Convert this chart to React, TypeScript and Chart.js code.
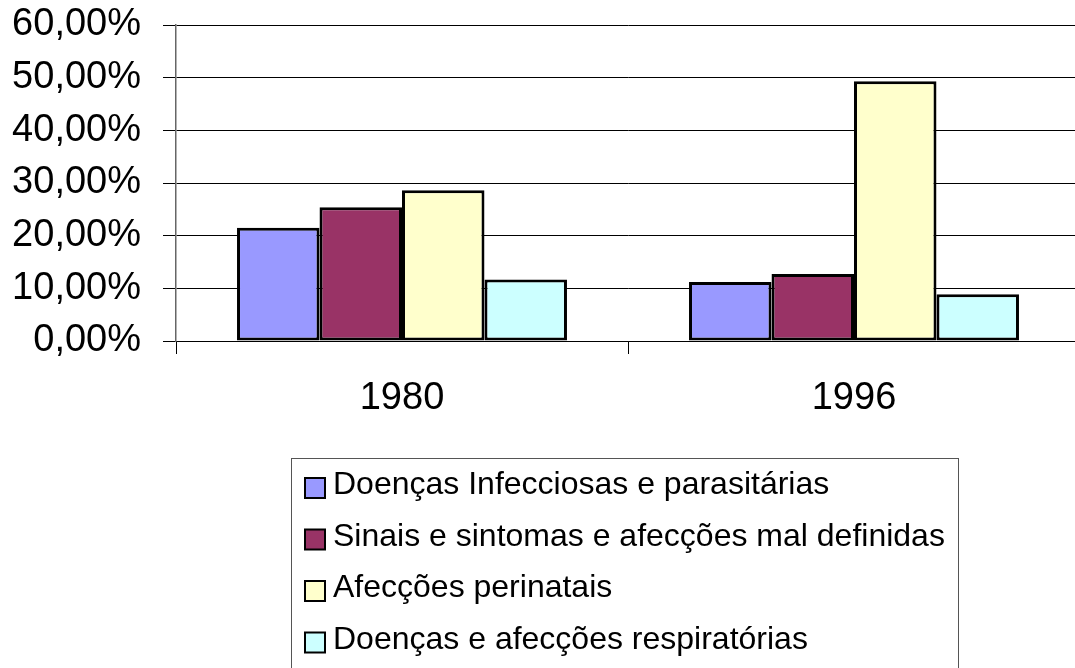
import React, { useEffect, useRef } from "react";
import { Chart, registerables } from "chart.js";

Chart.register(...registerables);

const categories = ["1980", "1996"];
const seriesNames = [
  "Doenças Infecciosas e parasitárias",
  "Sinais e sintomas e afecções mal definidas",
  "Afecções perinatais",
  "Doenças e afecções respiratórias",
];
const infecciosas = [21.5, 11.2];
const sinais = [25.4, 12.7];
const perinatais = [28.6, 49.3];
const respiratorias = [11.7, 8.9];
const seriesColors = ["#9999FF", "#993366", "#FFFFCC", "#CCFFFF"];
const yTicks = [0, 10, 20, 30, 40, 50, 60];

const FONT = "'Liberation Sans', Arial, sans-serif";

const boxLegend = {
  id: "boxLegend",
  afterDraw(chart: any, _args: any, opts: any) {
    const ctx = chart.ctx;
    ctx.save();
    ctx.strokeStyle = "#555";
    ctx.lineWidth = 1;
    ctx.strokeRect(opts.x + 0.5, opts.y + 0.5, opts.w, opts.h);
    ctx.font = `${opts.fontSize}px ${FONT}`;
    ctx.textBaseline = "alphabetic";
    ctx.textAlign = "left";
    chart.data.datasets.forEach((ds: any, i: number) => {
      const base = opts.firstBaseline + i * opts.step;
      ctx.fillStyle = ds.backgroundColor;
      ctx.fillRect(opts.swatchX, base - 16, 20, 20);
      ctx.strokeStyle = "#000";
      ctx.lineWidth = 2;
      ctx.strokeRect(opts.swatchX, base - 16, 20, 20);
      ctx.fillStyle = "#000";
      ctx.fillText(ds.label, opts.textX, base);
    });
    ctx.restore();
  },
};

export default function App() {
  const ref = useRef<HTMLCanvasElement>(null);
  useEffect(() => {
    if (!ref.current) return;
    const values = [infecciosas, sinais, perinatais, respiratorias];
    const chart = new Chart(ref.current, {
      type: "bar",
      data: {
        labels: categories,
        datasets: seriesNames.map((name, i) => ({
          label: name,
          data: values[i],
          backgroundColor: seriesColors[i],
          borderColor: "#000",
          borderWidth: 3,
          borderSkipped: false,
          categoryPercentage: 0.73,
          barPercentage: 1,
        })),
      },
      options: {
        responsive: false,
        animation: false,
        layout: { padding: { top: 25, right: 10, bottom: 0, left: 0 } },
        plugins: {
          legend: { display: false },
          tooltip: { enabled: false },
          boxLegend: {
            x: 291,
            y: 458,
            w: 667,
            h: 300,
            swatchX: 305,
            textX: 333,
            firstBaseline: 494,
            step: 51.5,
            fontSize: 32,
          },
        } as any,
        scales: {
          x: {
            afterFit: (s: any) => {
              s.height = 327;
              s.paddingLeft = 0;
              s.paddingRight = 0;
            },
            grid: {
              drawOnChartArea: false,
              drawTicks: true,
              tickLength: 13,
              color: "#000",
            },
            border: { display: true, color: "#000", width: 1 },
            ticks: {
              color: "#000",
              font: { family: FONT, size: 38 },
              padding: 22,
            },
          },
          y: {
            min: 0,
            max: 60,
            afterFit: (s: any) => {
              s.width = 176;
              s.paddingTop = 0;
              s.paddingBottom = 0;
            },
            afterBuildTicks: (s: any) => {
              s.ticks = yTicks.map((v) => ({ value: v }));
            },
            grid: {
              color: "#000",
              lineWidth: 1,
              drawTicks: true,
              tickLength: 13,
            },
            border: { display: true, color: "#666", width: 1.5 },
            ticks: {
              color: "#000",
              font: { family: FONT, size: 38 },
              padding: 22,
              callback: (v: any) => Number(v).toFixed(2).replace(".", ",") + "%",
            },
          },
        },
      },
      plugins: [boxLegend],
    });
    return () => chart.destroy();
  }, []);
  return (
    <div
      style={{
        position: "fixed",
        left: 0,
        top: 0,
        width: 1075,
        height: 668,
        overflow: "hidden",
        background: "#fff",
      }}
    >
      <canvas ref={ref} width={1090} height={668} style={{ display: "block" }} />
    </div>
  );
}
